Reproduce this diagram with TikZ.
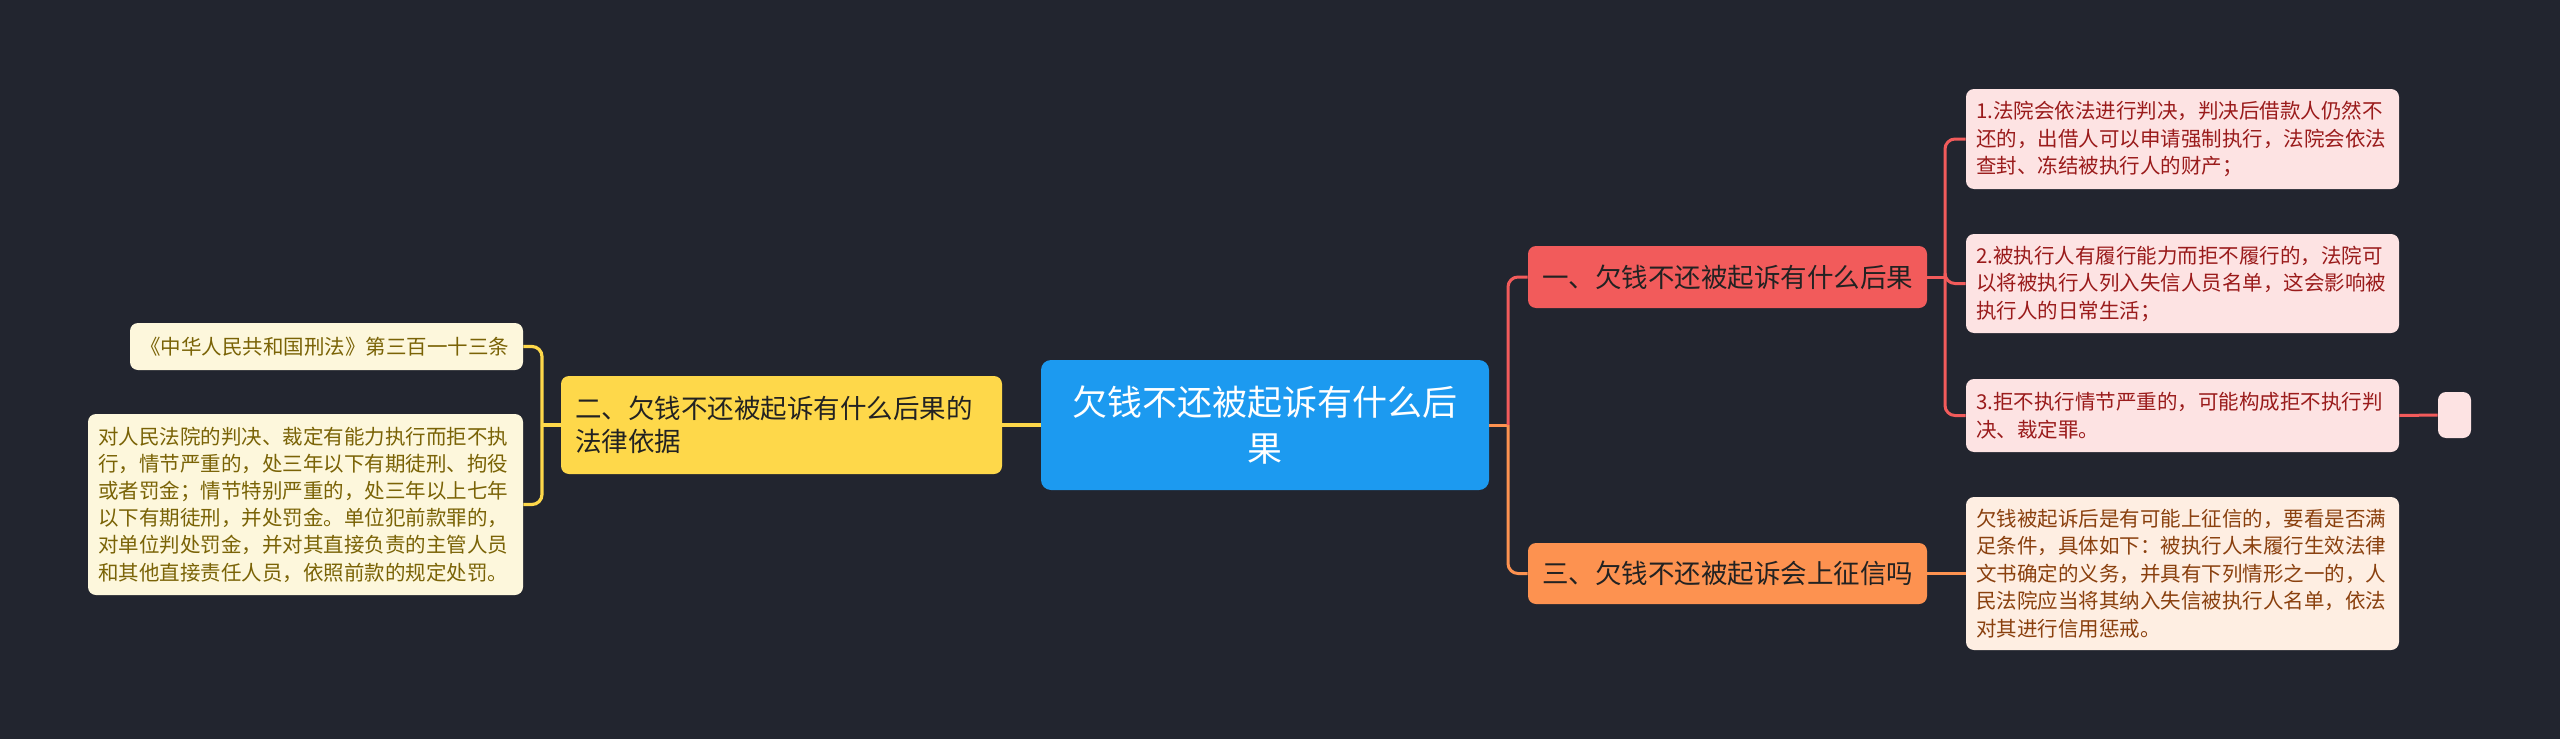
\documentclass[tikz,border=0pt]{standalone}
\usepackage{fontspec}
\newfontfamily\cjk{Noto Sans CJK SC}
\definecolor{bg}{HTML}{22252F}
\definecolor{cblue}{HTML}{1C9AF0}
\definecolor{bred}{HTML}{F25B5B}
\definecolor{borange}{HTML}{FD9250}
\definecolor{byellow}{HTML}{FED84A}
\definecolor{lred}{HTML}{FDE3E3}
\definecolor{tred}{HTML}{9A1B1B}
\definecolor{lorange}{HTML}{FEEEE2}
\definecolor{torange}{HTML}{8A400E}
\definecolor{lyellow}{HTML}{FDF7DC}
\definecolor{tyellow}{HTML}{7A6306}
\definecolor{tdark}{HTML}{222222}
\tikzset{
  box/.style={rounded corners=4pt, inner ysep=0pt, anchor=center, font=\cjk},
  centerbox/.style={box, rounded corners=5pt, fill=cblue, text=white, align=center,
     minimum width=224pt, minimum height=65pt,
     font=\cjk\fontsize{17.5pt}{23pt}\selectfont},
  branchbox/.style={box, text=tdark, align=center, minimum width=199.5pt,
     font=\cjk\fontsize{13.25pt}{16.5pt}\selectfont},
  rleaf/.style={box, fill=lred, text=tred, align=left, minimum width=216.5pt,
     inner xsep=5pt, text width=206.5pt,
     font=\cjk\fontsize{10.25pt}{13.75pt}\selectfont},
  oleaf/.style={rleaf, fill=lorange, text=torange},
  yleaf/.style={box, fill=lyellow, text=tyellow, align=left, inner xsep=5pt,
     font=\cjk\fontsize{10.25pt}{13.6pt}\selectfont},
  redline/.style={draw=bred, line width=1.5pt, rounded corners=5pt},
  orangeline/.style={draw=borange, line width=1.5pt, rounded corners=5pt},
  yellowline/.style={draw=byellow, line width=1.6pt, rounded corners=5pt},
}
\begin{document}
\begin{tikzpicture}[x=0.5pt,y=-0.5pt]
\fill[bg] (0,0) rectangle (2560,739);
\useasboundingbox (0,0) rectangle (2560,739);

% nodes
\node[centerbox] (c) at (1265,425) {欠钱不还被起诉有什么后\\果};
\node[box, fill=byellow, text=tdark, align=left, minimum width=220.5pt, minimum height=49pt,
      inner xsep=7pt, text width=206.5pt, font=\cjk\fontsize{13.25pt}{16.5pt}\selectfont]
      (y) at (781.5,425) {二、欠钱不还被起诉有什么后果的\\法律依据};
\node[branchbox, fill=bred, minimum height=31pt] (r) at (1727.5,277) {一、欠钱不还被起诉有什么后果};
\node[branchbox, fill=borange, minimum height=30.5pt] (o) at (1727.5,573.5) {三、欠钱不还被起诉会上征信吗};

\node[rleaf, minimum height=50pt] (l1) at (2182.5,139)
  {1.法院会依法进行判决，判决后借款人仍然不\\还的，出借人可以申请强制执行，法院会依法\\查封、冻结被执行人的财产；};
\node[rleaf, minimum height=49.5pt] (l2) at (2182.5,283.5)
  {2.被执行人有履行能力而拒不履行的，法院可\\以将被执行人列入失信人员名单，这会影响被\\执行人的日常生活；};
\node[rleaf, minimum height=36.5pt] (l3) at (2182.5,415.5)
  {3.拒不执行情节严重的，可能构成拒不执行判\\决、裁定罪。};
\node[box, fill=lred, minimum width=16.5pt, minimum height=23pt, inner xsep=0pt] (s) at (2454.5,415) {};
\node[oleaf, minimum height=76.5pt] (ol) at (2182.5,573.5)
  {欠钱被起诉后是有可能上征信的，要看是否满\\足条件，具体如下：被执行人未履行生效法律\\文书确定的义务，并具有下列情形之一的，人\\民法院应当将其纳入失信被执行人名单，依法\\对其进行信用惩戒。};

\node[yleaf, minimum width=196.5pt, minimum height=23.5pt, text width=186.5pt] (ya) at (326.5,346.5)
  {《中华人民共和国刑法》第三百一十三条};
\node[yleaf, minimum width=217.5pt, minimum height=90.5pt, text width=207.5pt] (yb) at (305.5,504.5)
  {对人民法院的判决、裁定有能力执行而拒不执\\行，情节严重的，处三年以下有期徒刑、拘役\\或者罚金；情节特别严重的，处三年以上七年\\以下有期徒刑，并处罚金。单位犯前款罪的，\\对单位判处罚金，并对其直接负责的主管人员\\和其他直接责任人员，依照前款的规定处罚。};

% junctions
\coordinate (jc) at (1508,425);
\coordinate (jr) at (1945,277);
\coordinate (jy) at (542,425);

% connectors
\draw[orangeline] (c.east) -- (jc);
\draw[orangeline] (jc) |- (o.west);
\draw[redline] (jc) |- (r.west);
\draw[redline] (r.east) -- (jr);
\draw[redline] (jr) |- (l1.west);
\draw[redline] (jr) |- (l2.west);
\draw[redline] (jr) |- (l3.west);
\draw[redline] (l3.east) -- (s.west);
\draw[orangeline] (o.east) -- (ol.west);
\draw[yellowline] (c.west) -- (y.east);
\draw[yellowline] (y.west) -- (jy);
\draw[yellowline] (jy) |- (ya.east);
\draw[yellowline] (jy) |- (yb.east);
\end{tikzpicture}
\end{document}
